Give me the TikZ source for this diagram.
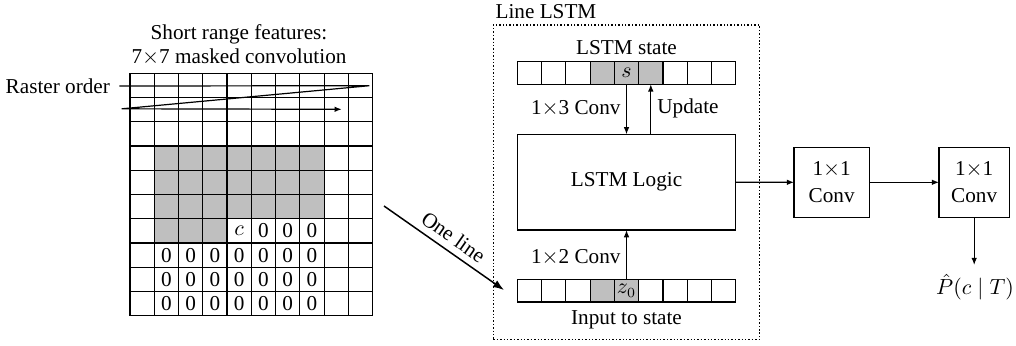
\documentclass[tikz,border=0pt]{standalone}
\usepackage{fontspec}
\setmainfont{Liberation Serif}
\usetikzlibrary{arrows.meta}
\begin{document}
\begin{tikzpicture}[x=0.5pt,y=-0.5pt,line width=0.6pt,
  every node/.style={font=\fontsize{10.6pt}{12pt}\selectfont},
  lbl/.style={inner sep=0pt},
  cellbox/.style={draw,minimum width=12.135pt,minimum height=11.3pt,inner sep=0pt,outer sep=0pt},
  shaded/.style={fill=gray!50},
  blockbox/.style={draw,align=center,inner sep=0pt,outer sep=0pt,font=\fontsize{10.6pt}{13.5pt}\selectfont},
  arr/.style={-{Latex[length=3.6pt,width=2.8pt]}},
  bigarr/.style={line width=0.75pt,-{Latex[length=5.5pt,width=4pt]}},
  dottedframe/.style={draw,line width=0.75pt,dash pattern=on 0.75pt off 0.95pt,inner sep=0pt,outer sep=0pt}]
\useasboundingbox (0,0) rectangle (1016,345);

% ---------- left: masked convolution grid ----------
\node[align=center,lbl] (title) at (239,45) {Short range features:\\7$\times$7 masked convolution};
\begin{scope}[shift={(130,73.3)},x=12.135pt,y=-12.12pt]
  \fill[gray!50] (1,3) rectangle (8,6);
  \fill[gray!50] (1,6) rectangle (4,7);
  \foreach \k in {0,...,10} {
    \draw (\k,0) -- (\k,10);
    \draw (0,\k) -- (10,\k);
  }
  \node[lbl] (mc) at (4.5,6.5) {$c$};
  \foreach \c in {5,6,7} \node[lbl] (m-6-\c) at (\c+0.5,6.5) {0};
  \foreach \r in {7,8,9} {
    \foreach \c in {1,...,7} \node[lbl] (m-\r-\c) at (\c+0.5,\r+0.5) {0};
  }
  \coordinate (gridright) at (10,0);
\end{scope}

% raster order
\node[lbl] (rast) at (57.8,86) {Raster order};
\coordinate (r1) at (369.3,85.7);
\coordinate (r2) at (121.7,108.8);
\coordinate (r3) at (341.7,109.3);
\draw[arr] ([xshift=4.5pt]rast.east) -- (r1) -- (r2) -- (r3);

% one line arrow
\coordinate (ol1) at (384,206);
\coordinate (ol2) at (504,290);
\draw[bigarr] (ol1) -- node[sloped,above,inner sep=3.2pt,pos=0.51] {One line} (ol2);

% ---------- Line LSTM ----------
\node[dottedframe,minimum width=133.1pt,minimum height=157.35pt] (lstmbox) at (626.4,182.35) {};
\node[lbl,anchor=west] (lstmlabel) at (495,12) {Line LSTM};

\node[lbl] (statelabel) at (626.5,48) {LSTM state};
\foreach \i in {0,...,8} {
  \ifnum\i=3 \node[cellbox,shaded] (s\i) at ({517.3+24.27*(\i+0.5)},73) {};
  \else\ifnum\i=4 \node[cellbox,shaded] (s\i) at ({517.3+24.27*(\i+0.5)},73) {$s$};
  \else\ifnum\i=5 \node[cellbox,shaded] (s\i) at ({517.3+24.27*(\i+0.5)},73) {};
  \else \node[cellbox] (s\i) at ({517.3+24.27*(\i+0.5)},73) {};
  \fi\fi\fi
}
\foreach \i in {0,...,8} {
  \ifnum\i=3 \node[cellbox,shaded] (i\i) at ({517.3+24.27*(\i+0.5)},290.7) {};
  \else\ifnum\i=4 \node[cellbox,shaded] (i\i) at ({517.3+24.27*(\i+0.5)},290.7) {$z_0$};
  \else \node[cellbox] (i\i) at ({517.3+24.27*(\i+0.5)},290.7) {};
  \fi\fi
}
\node[lbl] (inputlabel) at (626.5,320) {Input to state};

\node[blockbox,minimum width=109.2pt,minimum height=47.85pt] (logic) at (626.5,182.2) {LSTM Logic};

\draw[arr] (s4.south) -- (s4.south |- logic.north);
\draw[arr] (s5.south |- logic.north) -- (s5.south);
\draw[arr] (i4.north) -- (i4.north |- logic.south);
\node[lbl] (conv13) at (575.8,108) {1$\times$3 Conv};
\node[lbl] (update) at (688,108) {Update};
\node[lbl] (conv12) at (575.8,257) {1$\times$2 Conv};

% ---------- output ----------
\node[blockbox,minimum width=37.65pt,minimum height=35pt] (c1) at (831.7,182.3) {1$\times$1\\Conv};
\node[blockbox,minimum width=35.15pt,minimum height=35pt] (c2) at (974.2,182.3) {1$\times$1\\Conv};
\draw[arr] (logic.east) -- (c1.west);
\draw[arr] (c1.east) -- (c2.west);
\coordinate (pend) at (974.2,265);
\draw[arr] (c2.south) -- (pend);
\node[lbl] (prob) at (975,287) {$\hat{P}(c \mid T)$};
\end{tikzpicture}
\end{document}
